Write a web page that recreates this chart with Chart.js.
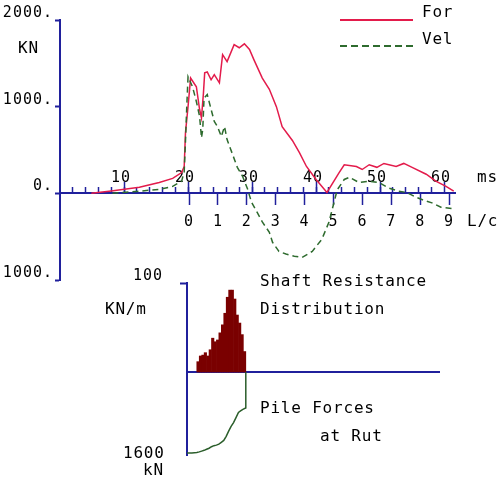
<!DOCTYPE html>
<html>
<head>
<meta charset="utf-8">
<script src="https://cdn.jsdelivr.net/npm/chart.js@4"></script>
<style>
  body { margin: 0; background: #fff; }
  #wrap { position: relative; width: 500px; height: 483px; overflow: hidden; }
  canvas { position: absolute; left: 0; top: 0; }
  .t { position: absolute; font: 16px "DejaVu Sans Mono", monospace; letter-spacing: 0.8px;
       line-height: 16px; color: #000; white-space: nowrap; }
  .key { position: absolute; left: 340px; width: 73px; height: 2px; }
</style>
</head>
<body>
<div id="wrap">
  <canvas id="topChart" width="500" height="483"></canvas>
  <canvas id="pileChart" width="500" height="483"></canvas>

  <div class="t" style="left:18px; top:40px;">KN</div>
  <div class="key" style="top:19px; background:#e31b4b;"></div>
  <div class="t" style="left:422px; top:4px;">For</div>
  <div class="key" style="top:45px; background:repeating-linear-gradient(90deg,#2e6b2e 0 7px,transparent 7px 11px);"></div>
  <div class="t" style="left:422px; top:31px;">Vel</div>
  <div class="t" style="left:477px; top:169px;">ms</div>
  <div class="t" style="left:467px; top:213px;">L/c</div>

  <div class="t" style="left:105px; top:301px;">KN/m</div>
  <div class="t" style="left:123px; top:445px;">1600</div>
  <div class="t" style="left:143px; top:462px;">kN</div>
  <div class="t" style="left:260px; top:273px;">Shaft Resistance</div>
  <div class="t" style="left:260px; top:301px;">Distribution</div>
  <div class="t" style="left:260px; top:400px;">Pile Forces</div>
  <div class="t" style="left:320px; top:428px;">at Rut</div>
</div>

<script>
// Top plot: force and velocity (kN) against time (ms)
const forceMs = [4.9, 8.0, 12.4, 15.5, 17.6, 19.0, 19.4, 19.6, 20.0, 20.4, 21.3, 21.8, 22.1, 22.4, 22.6,
                 23.0, 23.6, 24.1, 24.9, 25.4, 26.1, 27.2, 28.0, 28.8, 29.6, 30.3, 31.6, 32.7, 33.8, 34.7,
                 36.3, 37.4, 38.5, 40.0, 41.7, 43.6, 44.4, 46.3, 47.2, 48.3, 49.5, 50.6, 52.5, 53.7, 55.0,
                 57.2, 58.7, 60.3, 61.5];
const forceKN = [0, 26, 70, 126, 172, 240, 310, 700, 1000, 1330, 1230, 970, 870, 1150, 1390,
                 1400, 1310, 1370, 1275, 1600, 1520, 1715, 1680, 1725, 1660, 1540, 1330, 1200, 1000, 770,
                 610, 470, 310, 160, 10, 240, 330, 310, 275, 330, 300, 345, 310, 345, 300,
                 220, 140, 80, 25];
const velMs = [8.2, 12.4, 15.5, 17.6, 19.0, 19.4, 19.6, 19.8, 20.0, 20.7, 21.3, 21.8, 22.1, 22.3, 22.5,
               23.0, 23.6, 24.1, 24.6, 25.2, 25.7, 26.1, 26.9, 27.7, 28.5, 29.3, 29.9, 30.8, 31.6, 32.7,
               33.2, 34.2, 35.3, 36.6, 37.8, 39.4, 40.9, 42.0, 42.8, 43.3, 44.4, 45.2, 46.7, 48.3, 49.8,
               51.4, 52.9, 54.2, 55.6, 57.2, 58.1, 59.5, 61.2];
const velKN = [0, 25, 46, 80, 140, 250, 600, 1000, 1345, 1230, 1060, 890, 640, 740, 1100,
               1140, 970, 830, 770, 655, 770, 620, 460, 300, 200, 50, -100, -220, -330, -450,
               -565, -670, -700, -725, -740, -670, -530, -335, -105, 40, 160, 185, 125, 140, 125,
               60, 25, 10, -45, -90, -110, -160, -175];
const kNTicks = [-1000, 0, 1000, 2000];
const msLabels = [10, 20, 30, 40, 50, 60];
const lcLabels = [0, 1, 2, 3, 4, 5, 6, 7, 8, 9];

// Bottom plot: shaft resistance (kN/m) and pile force (kN) by pile segment
const shaftSeg = [4.5, 5.5, 6.5, 7.5, 8.5, 9.5, 10.5, 11.5, 12.5, 13.5,
                  14.5, 15.5, 16.5, 17.5, 18.5, 19.5, 20.5, 21.5, 22.5, 23.5];
const shaftRes = [11.6, 18, 19, 21.7, 18, 25, 38, 34, 36, 44,
                  53, 66, 84, 92, 92, 82, 64, 55, 42, 23];
const pileSeg = [0, 1, 2, 3, 4, 5, 6, 7, 8, 9, 10, 11, 12, 13, 14, 15, 16, 17, 18, 19, 20, 21, 22, 23, 24, 24];
const pileForce = [1560, 1560, 1560, 1555, 1550, 1540, 1525, 1510, 1490, 1470, 1440, 1420, 1410,
                   1390, 1355, 1320, 1240, 1140, 1050, 975, 880, 780, 745, 715, 694, 0];
const shaftTicks = [100];

const NAVY = '#20209c';
const RED = '#e31b4b';
const GREEN = '#2e6b2e';
const MAROON = '#7a0000';
const PILE_GREEN = '#2b5e2b';
const TICK_FONT = { family: 'DejaVu Sans Mono', size: 15 };

Chart.defaults.font.family = 'DejaVu Sans Mono';

// wide pixel-font look for the tick labels
const spacing = {
    id: 'spacing',
    beforeDraw(chart) { chart.ctx.letterSpacing = '1px'; }
};

function pts(xs, ys) {
    return xs.map((x, i) => ({ x: x, y: ys[i] }));
}

function keep(values) {
    return scale => { scale.ticks = values.map(v => ({ value: v })); };
}

new Chart(document.getElementById('topChart'), {
    type: 'line',
    data: {
        datasets: [
            {
                label: 'Vel',
                data: pts(velMs, velKN),
                borderColor: GREEN,
                borderWidth: 1.5,
                borderDash: [6, 4],
                pointRadius: 0,
                order: 0
            },
            {
                label: 'For',
                data: pts(forceMs, forceKN),
                borderColor: RED,
                borderWidth: 1.5,
                pointRadius: 0,
                order: 1
            }
        ]
    },
    options: {
        responsive: false,
        animation: false,
        devicePixelRatio: 1,
        layout: { padding: { left: 0, top: 20, right: 45, bottom: 203 } },
        plugins: { legend: { display: false }, tooltip: { enabled: false } },
        scales: {
            y: {
                type: 'linear',
                position: 'left',
                min: -1000,
                max: 2000,
                afterBuildTicks: keep(kNTicks),
                afterFit: s => { s.width = 60; },
                grid: { drawOnChartArea: false, tickLength: 5, tickColor: NAVY, tickWidth: 2 },
                border: { color: NAVY, width: 2 },
                ticks: {
                    font: TICK_FONT, color: '#000', padding: 2, labelOffset: -7,
                    callback: v => Math.abs(v) + '.'
                }
            },
            x: {
                type: 'linear',
                position: { y: 0 },
                min: 0,
                max: 61.7,
                afterBuildTicks: s => { s.ticks = s.ticks.filter(t => t.value > 0 && t.value % 2 === 0); },
                grid: { drawOnChartArea: false, tickLength: -7, tickColor: NAVY, tickWidth: 1.5 },
                border: { color: NAVY, width: 2 },
                ticks: { stepSize: 2, display: false }
            },
            xm: {
                type: 'linear',
                position: { y: 0 },
                min: 0,
                max: 61.7,
                afterBuildTicks: keep(msLabels),
                grid: { drawOnChartArea: false, tickLength: -11, tickColor: NAVY, tickWidth: 1.5 },
                border: { display: false },
                ticks: {
                    font: TICK_FONT, color: '#000', padding: -13, labelOffset: -3,
                    autoSkip: false, maxRotation: 0, callback: v => String(v)
                }
            },
            xl: {
                type: 'linear',
                position: { y: 0 },
                min: -4.464,
                max: 9.204,
                afterBuildTicks: keep(lcLabels),
                grid: { drawOnChartArea: false, tickLength: 12, tickColor: NAVY, tickWidth: 1.5 },
                border: { display: false },
                ticks: {
                    font: TICK_FONT, color: '#000', padding: 8,
                    autoSkip: false, maxRotation: 0, callback: v => String(v)
                }
            }
        }
    },
    plugins: [spacing]
});

new Chart(document.getElementById('pileChart'), {
    type: 'line',
    data: {
        datasets: [
            {
                type: 'bar',
                label: 'Shaft Resistance',
                data: pts(shaftSeg, shaftRes),
                backgroundColor: MAROON,
                barPercentage: 1,
                categoryPercentage: 1,
                yAxisID: 'y'
            },
            {
                type: 'line',
                label: 'Pile Forces',
                data: pts(pileSeg, pileForce),
                borderColor: PILE_GREEN,
                borderWidth: 1.5,
                pointRadius: 0,
                yAxisID: 'yf'
            }
        ]
    },
    options: {
        responsive: false,
        animation: false,
        devicePixelRatio: 1,
        layout: { padding: { left: 0, top: 283, right: 61, bottom: 28 } },
        plugins: { legend: { display: false }, tooltip: { enabled: false } },
        scales: {
            x: {
                type: 'linear',
                position: { y: 0 },
                min: 0,
                max: 102.86,
                offset: false,
                grid: { display: false, offset: false },
                border: { color: NAVY, width: 2 },
                ticks: { display: false }
            },
            y: {
                type: 'linear',
                position: 'left',
                min: -93.26,
                max: 100,
                afterBuildTicks: keep(shaftTicks),
                afterFit: s => { s.width = 187; },
                grid: { drawOnChartArea: false, tickLength: 7, tickColor: NAVY, tickWidth: 2 },
                border: { color: NAVY, width: 2 },
                ticks: { font: TICK_FONT, color: '#000', padding: 17, labelOffset: -7 }
            },
            yf: {
                type: 'linear',
                display: false,
                min: -1715.7,
                max: 1600,
                reverse: true
            }
        }
    },
    plugins: [spacing]
});
</script>
</body>
</html>
